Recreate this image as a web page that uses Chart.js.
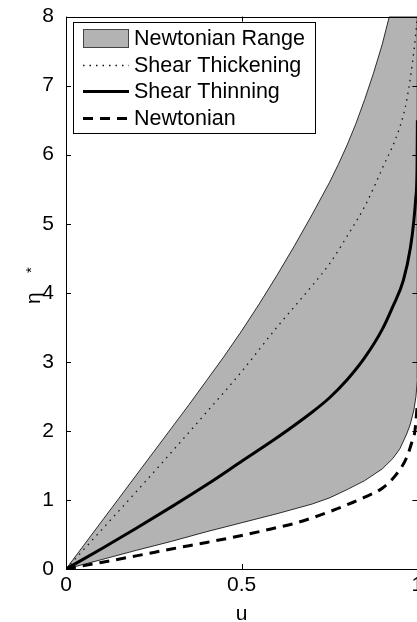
<!DOCTYPE html>
<html>
<head>
<meta charset="utf-8">
<script src="https://cdn.jsdelivr.net/npm/chart.js@4.4.0/dist/chart.umd.min.js"></script>
<style>
  html, body { margin: 0; padding: 0; overflow: hidden; background: #fff; }
  canvas { display: block; }
</style>
</head>
<body>
<canvas id="chart" width="440" height="622"></canvas>
<script>
// boundaries of the Newtonian range (eta* against u)
const uUpper = [0, 0.05, 0.1, 0.15, 0.2, 0.25, 0.3, 0.35, 0.4, 0.45, 0.5, 0.55, 0.6, 0.65, 0.7, 0.75, 0.775, 0.8, 0.825, 0.85, 0.875, 0.9, 0.92];
const etaUpper = [0, 0.34, 0.68, 1.02, 1.36, 1.7, 2.04, 2.38, 2.73, 3.08, 3.45, 3.84, 4.25, 4.68, 5.13, 5.6, 5.86, 6.14, 6.45, 6.8, 7.18, 7.6, 8];
const uLower = [0, 0.1, 0.2, 0.3, 0.4, 0.5, 0.6, 0.7, 0.75, 0.8, 0.85, 0.9, 0.93, 0.95, 0.97, 0.98, 0.99, 0.996, 1];
const etaLower = [0, 0.134, 0.27, 0.4, 0.54, 0.67, 0.8, 0.94, 1.03, 1.15, 1.28, 1.45, 1.6, 1.74, 1.96, 2.1, 2.3, 2.5, 2.75];

// shear thickening
const uThick = [0, 0.1, 0.2, 0.3, 0.4, 0.5, 0.6, 0.65, 0.7, 0.75, 0.8, 0.85, 0.9, 0.95, 0.97, 0.99, 1];
const etaThick = [0, 0.56, 1.12, 1.69, 2.27, 2.86, 3.5, 3.8, 4.1, 4.42, 4.82, 5.25, 5.8, 6.4, 6.8, 7.5, 8];

// shear thinning
const uThin = [0, 0.1, 0.2, 0.3, 0.4, 0.5, 0.6, 0.7, 0.75, 0.8, 0.85, 0.9, 0.93, 0.96, 0.98, 0.99, 0.995, 0.999, 1];
const etaThin = [0, 0.29, 0.59, 0.9, 1.22, 1.56, 1.9, 2.27, 2.48, 2.74, 3.06, 3.47, 3.8, 4.18, 4.65, 5.05, 5.35, 5.8, 6.5];

// newtonian
const uNewt = [0, 0.1, 0.2, 0.3, 0.4, 0.5, 0.6, 0.65, 0.7, 0.75, 0.8, 0.85, 0.9, 0.94, 0.97, 0.985, 0.993, 1];
const etaNewt = [0, 0.095, 0.19, 0.29, 0.385, 0.485, 0.6, 0.66, 0.74, 0.83, 0.93, 1.04, 1.17, 1.37, 1.62, 1.85, 2.0, 2.4];

const xTicks = [0, 0.5, 1];
const yTicks = [0, 1, 2, 3, 4, 5, 6, 7, 8];

const FONT = "'Liberation Sans', Arial, Helvetica, sans-serif";

const toPoints = (us, etas) => us.map((u, i) => ({ x: u, y: etas[i] }));

// closed outline: up the upper boundary, across the top, down the right edge, back along the lower one
const rangeShape = [
    ...toPoints(uUpper, etaUpper),
    { x: 1, y: 8 },
    ...toPoints(uLower, etaLower).reverse(),
];

const frameTicks = {
    id: 'frameTicks',
    afterDraw(chart) {
        const { ctx, chartArea: a, scales } = chart;
        ctx.save();
        ctx.strokeStyle = '#000';
        ctx.lineWidth = 1;
        ctx.beginPath();
        yTicks.forEach((v) => {
            const y = Math.round(scales.y.getPixelForValue(v)) + 0.5;
            ctx.moveTo(a.left, y);
            ctx.lineTo(a.left + 5, y);
            ctx.moveTo(a.right, y);
            ctx.lineTo(a.right - 5, y);
        });
        xTicks.forEach((v) => {
            const x = Math.round(scales.x.getPixelForValue(v)) + 0.5;
            ctx.moveTo(x, a.bottom);
            ctx.lineTo(x, a.bottom - 5);
            ctx.moveTo(x, a.top);
            ctx.lineTo(x, a.top + 5);
        });
        ctx.stroke();
        ctx.strokeRect(Math.round(a.left) + 0.5, Math.round(a.top) + 0.5,
            a.right - a.left, Math.round(a.bottom - a.top));

        // y axis title: eta with a raised asterisk
        ctx.fillStyle = '#000';
        ctx.translate(40, 298);
        ctx.rotate(-Math.PI / 2);
        ctx.font = '21px ' + FONT;
        ctx.textAlign = 'left';
        ctx.textBaseline = 'alphabetic';
        ctx.fillText('η', -6, 0);
        ctx.font = '15px ' + FONT;
        ctx.fillText('*', 25, -4);
        ctx.restore();
    },
};

const boxLegend = {
    id: 'boxLegend',
    afterDatasetsDraw(chart) {
        const { ctx } = chart;
        const left = 73.5, top = 22.5, w = 242, h = 111;
        ctx.save();
        ctx.fillStyle = '#fff';
        ctx.fillRect(left, top, w, h);
        ctx.strokeStyle = '#000';
        ctx.lineWidth = 1;
        ctx.strokeRect(left, top, w, h);

        ctx.font = '21.5px ' + FONT;
        ctx.textBaseline = 'middle';
        ctx.textAlign = 'left';
        chart.data.datasets.forEach((ds, i) => {
            const cy = 38.5 + i * 26.4;
            if (ds.fill) {
                ctx.fillStyle = ds.backgroundColor;
                ctx.fillRect(83, cy - 9.5, 46, 19);
                ctx.strokeStyle = '#444';
                ctx.strokeRect(83.5, cy - 9, 45, 18);
            } else {
                ctx.strokeStyle = ds.borderColor;
                ctx.lineWidth = ds.borderWidth;
                ctx.setLineDash(ds.borderDash || []);
                ctx.beginPath();
                ctx.moveTo(83, Math.round(cy) + 0.5);
                ctx.lineTo(129, Math.round(cy) + 0.5);
                ctx.stroke();
                ctx.setLineDash([]);
            }
            ctx.fillStyle = '#000';
            ctx.fillText(ds.label, 134, cy + 1);
        });
        ctx.restore();
    },
};

new Chart(document.getElementById('chart'), {
    type: 'scatter',
    data: {
        datasets: [
            {
                label: 'Newtonian Range',
                data: rangeShape,
                showLine: true,
                fill: 'shape',
                backgroundColor: '#b3b3b3',
                borderColor: '#000',
                borderWidth: 0.8,
                pointRadius: 0,
                order: 2,
            },
            {
                label: 'Shear Thickening',
                data: toPoints(uThick, etaThick),
                showLine: true,
                borderColor: '#111',
                borderWidth: 1.3,
                borderDash: [1.5, 5],
                cubicInterpolationMode: 'monotone',
                pointRadius: 0,
                order: 1,
            },
            {
                label: 'Shear Thinning',
                data: toPoints(uThin, etaThin),
                showLine: true,
                borderColor: '#000',
                borderWidth: 3,
                cubicInterpolationMode: 'monotone',
                pointRadius: 0,
                order: 1,
            },
            {
                label: 'Newtonian',
                data: toPoints(uNewt, etaNewt),
                showLine: true,
                borderColor: '#000',
                borderWidth: 3,
                borderDash: [10, 7],
                cubicInterpolationMode: 'monotone',
                pointRadius: 0,
                order: 1,
            },
        ],
    },
    options: {
        responsive: false,
        animation: false,
        events: [],
        layout: { padding: { top: 15, right: 22.6, bottom: 0, left: 0 } },
        plugins: {
            legend: { display: false },
            tooltip: { enabled: false },
        },
        scales: {
            x: {
                type: 'linear',
                min: 0,
                max: 1,
                afterFit: (scale) => { scale.height = 53; },
                afterBuildTicks: (scale) => { scale.ticks = xTicks.map((v) => ({ value: v })); },
                grid: { display: false },
                border: { display: false },
                ticks: {
                    color: '#000',
                    padding: -4,
                    font: { size: 21, family: FONT },
                    callback: (val) => String(val),
                },
                title: {
                    display: true,
                    text: 'u',
                    color: '#000',
                    padding: { top: 0, bottom: -5 },
                    font: { size: 21, family: FONT },
                },
            },
            y: {
                type: 'linear',
                min: 0,
                max: 8,
                afterFit: (scale) => { scale.width = 66; },
                afterBuildTicks: (scale) => { scale.ticks = yTicks.map((v) => ({ value: v })); },
                grid: { display: false },
                border: { display: false },
                ticks: {
                    color: '#000',
                    padding: 4,
                    font: { size: 21, family: FONT },
                    callback: (val) => String(val),
                },
            },
        },
    },
    plugins: [frameTicks, boxLegend],
});
</script>
</body>
</html>
